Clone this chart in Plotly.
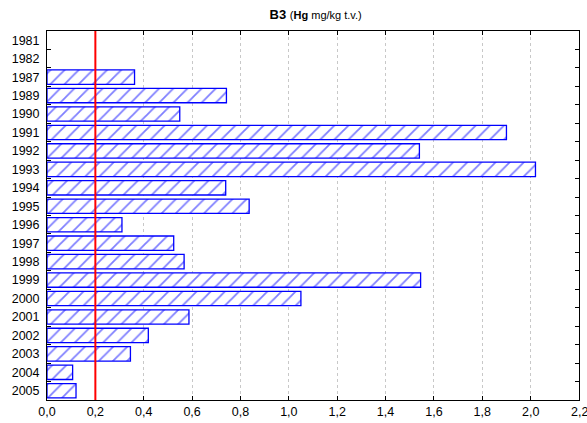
import plotly.graph_objects as go

years = ["1981", "1982", "1987", "1989", "1990", "1991", "1992", "1993", "1994", "1995",
         "1996", "1997", "1998", "1999", "2000", "2001", "2002", "2003", "2004", "2005"]
hg = [None, None, 0.362, 0.742, 0.549, 1.90, 1.54, 2.02, 0.739, 0.836,
      0.31, 0.524, 0.567, 1.545, 1.05, 0.587, 0.419, 0.345, 0.106, 0.12]
limit_value = 0.2
x_ticks = [0.0, 0.2, 0.4, 0.6, 0.8, 1.0, 1.2, 1.4, 1.6, 1.8, 2.0, 2.2]

fig = go.Figure()
fig.add_trace(go.Bar(
    y=years, x=hg, orientation="h",
    marker=dict(color="white",
                line=dict(color="#0000ff", width=1.3),
                pattern=dict(shape="/", fgcolor="#0000ff", bgcolor="white",
                             size=10, solidity=0.18)),
    showlegend=False,
))

fig.add_shape(type="line", xref="x", yref="paper", x0=limit_value, x1=limit_value,
              y0=0, y1=1, line=dict(color="#ff0000", width=2))

# last tick label sits at the right edge of the figure
fig.add_annotation(x=x_ticks[-1], xref="x", y=0, yref="paper", yshift=-3,
                   text=f"{x_ticks[-1]:.1f}".replace(".", ","), showarrow=False,
                   xanchor="center", yanchor="top",
                   font=dict(size=12.5, family="Liberation Sans, Arial, sans-serif"))

fig.update_layout(
    width=587, height=423,
    margin=dict(l=47, r=8, t=31, b=23),
    paper_bgcolor="white", plot_bgcolor="white",
    separators=",.",
    bargap=0.22,
    font=dict(family="Liberation Sans, Arial, sans-serif", size=13, color="black"),
    title=dict(text="<b>B3</b> <span style='font-size:11px'>(<b>Hg</b> mg/kg t.v.)</span>",
               x=0.505, xanchor="center", xref="paper",
               y=1 - 14 / 423, yref="container", yanchor="middle",
               font=dict(size=13)),
    xaxis=dict(range=[0, 2.2], tickvals=x_ticks[:-1], tickformat=".1f",
               showgrid=True, gridcolor="#c8c8c8", griddash="dot", gridwidth=1,
               showline=True, linecolor="black", linewidth=1, mirror="allticks",
               ticks="inside", ticklen=4, tickcolor="black", zeroline=False,
               tickfont=dict(size=12.5), automargin=False),
    yaxis=dict(categoryorder="array", categoryarray=years, autorange="reversed",
               showline=True, linecolor="black", linewidth=1, mirror="allticks",
               ticks="inside", ticklen=4, tickcolor="black", tickson="boundaries",
               showgrid=False, tickfont=dict(size=12.5), automargin=False,
               ticklabelstandoff=4),
)

fig.write_html("out.html", config={"displayModeBar": False},
               post_script="document.body.style.margin='0';document.body.style.overflow='hidden';")
